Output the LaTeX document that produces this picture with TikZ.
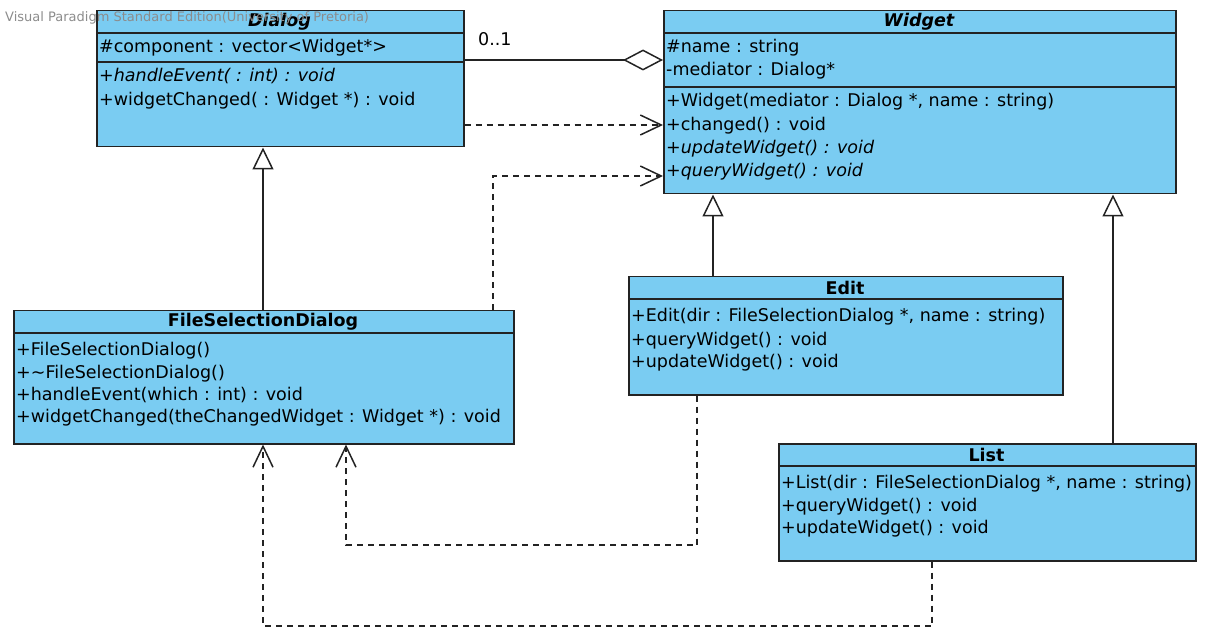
\documentclass[tikz,border=0pt]{standalone}
\usepackage{fontspec}
\setmainfont{DejaVu Sans}
\usetikzlibrary{arrows.meta}

\definecolor{classblue}{RGB}{122,204,242}
\definecolor{classline}{RGB}{35,35,35}

\tikzset{
	umlbox/.style={draw=classline, fill=classblue, line width=1.5pt, inner sep=0pt, anchor=north west},
	sepline/.style={draw=classline, line width=1.5pt},
	head/.style={inner sep=0pt, font=\fontsize{17.5}{20}\selectfont\bfseries},
	member/.style={anchor=base west, inner sep=0pt, font=\fontsize{17.5}{20}\selectfont},
	gen/.style={draw=classline, line width=1.5pt, -{Triangle[open,length=22pt,width=21pt,line width=1.5pt]}},
	dep/.style={draw=classline, line width=1.5pt, dash pattern=on 6pt off 5pt, -{Straight Barb[length=21pt,width=20pt,line width=1.5pt]}},
	aggr/.style={draw=classline, line width=1.5pt, -{Diamond[open,length=40pt,width=21pt,line width=1.5pt]}}
}

\begin{document}
\begin{tikzpicture}[x=1pt,y=-1pt]
		\useasboundingbox (0,0) rectangle (1210,628);
		
		% Dialog
		\node[umlbox, minimum width=367pt, minimum height=136pt] (dialog) at (96,10) {};
		\draw[sepline] (dialog.west |- 0,33) -- (dialog.east |- 0,33);
		\draw[sepline] (dialog.west |- 0,62) -- (dialog.east |- 0,62);
		\node[head] (dialog-h) at (279.5,21.5) {\itshape Dialog};
		\node[member] (dialog-a1) at (99,53) {\#component : vector<Widget*>};
		\node[member] (dialog-m1) at (99,82) {\itshape +handleEvent( : int) : void};
		\node[member] (dialog-m2) at (99,106) {+widgetChanged( : Widget *) : void};
		
		% Widget
		\node[umlbox, minimum width=512pt, minimum height=183pt] (widget) at (663,10) {};
		\draw[sepline] (widget.west |- 0,33) -- (widget.east |- 0,33);
		\draw[sepline] (widget.west |- 0,87) -- (widget.east |- 0,87);
		\node[head] (widget-h) at (919,21.5) {\itshape Widget};
		\node[member] (widget-a1) at (666,53) {\#name : string};
		\node[member] (widget-a2) at (666,76) {-mediator : Dialog*};
		\node[member] (widget-m1) at (666,107) {+Widget(mediator : Dialog *, name : string)};
		\node[member] (widget-m2) at (666,131) {+changed() : void};
		\node[member] (widget-m3) at (666,154) {\itshape +updateWidget() : void};
		\node[member] (widget-m4) at (666,177) {\itshape +queryWidget() : void};
		
		% FileSelectionDialog
		\node[umlbox, minimum width=500pt, minimum height=133pt] (fsd) at (13,310) {};
		\draw[sepline] (fsd.west |- 0,333) -- (fsd.east |- 0,333);
		\node[head] (fsd-h) at (263,321.5) {FileSelectionDialog};
		\node[member] (fsd-m1) at (16,355) {+FileSelectionDialog()};
		\node[member] (fsd-m2) at (16,378) {+\textasciitilde FileSelectionDialog()};
		\node[member] (fsd-m3) at (16,400) {+handleEvent(which : int) : void};
		\node[member] (fsd-m4) at (16,422) {+widgetChanged(theChangedWidget : Widget *) : void};
		
		% Edit
		\node[umlbox, minimum width=434pt, minimum height=118pt] (edit) at (628,276) {};
		\draw[sepline] (edit.west |- 0,299) -- (edit.east |- 0,299);
		\node[head] (edit-h) at (845,287.5) {Edit};
		\node[member] (edit-m1) at (631,321) {+Edit(dir : FileSelectionDialog *, name : string)};
		\node[member] (edit-m2) at (631,345) {+queryWidget() : void};
		\node[member] (edit-m3) at (631,367) {+updateWidget() : void};
		
		% List
		\node[umlbox, minimum width=417pt, minimum height=117pt] (list) at (778,443) {};
		\draw[sepline] (list.west |- 0,466) -- (list.east |- 0,466);
		\node[head] (list-h) at (986.5,454.5) {List};
		\node[member] (list-m1) at (781,488) {+List(dir : FileSelectionDialog *, name : string)};
		\node[member] (list-m2) at (781,511) {+queryWidget() : void};
		\node[member] (list-m3) at (781,533) {+updateWidget() : void};
		
		% connectors
		\coordinate (aggY) at (0,60);
		\coordinate (depY) at (0,125);
		\coordinate (fsdUp) at (493,176);
		\coordinate (g1) at (263,0);
		\coordinate (g2) at (713,0);
		\coordinate (g3) at (1113,0);
		\coordinate (editDown) at (697,545);
		\coordinate (e2) at (346,0);
		\coordinate (listDown) at (932,626);
		\coordinate (l2) at (263,0);
		
		\draw[aggr] (dialog.east |- aggY) -- (widget.west |- aggY);
		\node[font=\fontsize{17.5}{20}\selectfont, anchor=base west, inner sep=0pt] (mult) at (478,46) {0..1};
		\draw[dep] (dialog.east |- depY) -- (widget.west |- depY);
		\draw[dep] (fsd.north -| fsdUp) |- (widget.west |- fsdUp);
		\draw[gen] (fsd.north -| g1) -- (dialog.south -| g1);
		\draw[gen] (edit.north -| g2) -- (widget.south -| g2);
		\draw[gen] (list.north -| g3) -- (widget.south -| g3);
		\draw[dep] (edit.south -| editDown) -- (editDown) -| (fsd.south -| e2);
		\draw[dep] (list.south -| listDown) -- (listDown) -| (fsd.south -| l2);
		
		% watermark
		\node[anchor=base west, inner sep=0pt, text=black!45, font=\fontsize{13}{15}\selectfont] (mark) at (5,22) {Visual Paradigm Standard Edition(University of Pretoria)};
		
	\end{tikzpicture}
\end{document}
